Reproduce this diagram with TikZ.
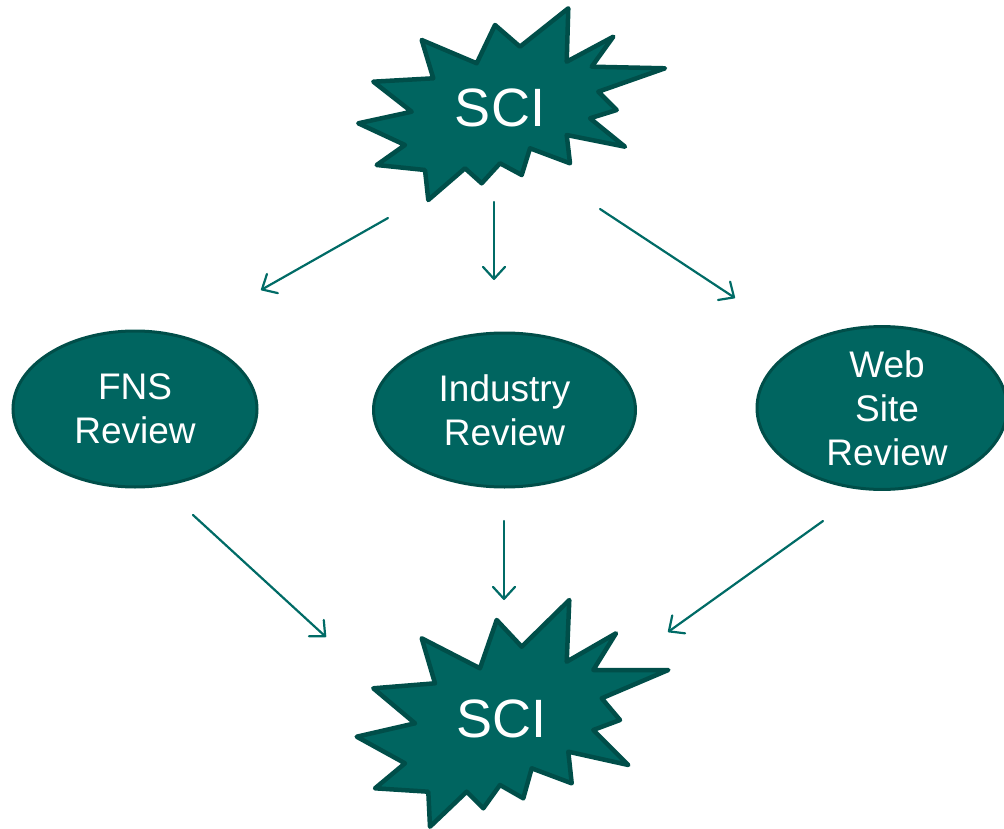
\documentclass[tikz,border=0pt]{standalone}
\usepackage{fontspec}
\setmainfont{Liberation Sans}
\usetikzlibrary{arrows.meta,shapes.geometric}
\definecolor{tealfill}{HTML}{006560}
\definecolor{tealdark}{HTML}{004E49}
\definecolor{tealline}{HTML}{006B66}
\tikzset{
  star/.style={fill=tealfill, draw=tealdark, line width=4.5pt, line join=round},
  review/.style={ellipse, fill=tealfill, draw=tealdark, line width=3pt, inner sep=0pt,
    text=white, align=center, font=\fontsize{37}{44}\selectfont},
  scitext/.style={text=white, font=\fontsize{54}{60}\selectfont, inner sep=0pt},
  flow/.style={draw=tealline, line width=2.2pt, line cap=round,
    -{Straight Barb[length=12pt, width=22pt, line width=2.2pt, round]}}
}
\begin{document}
\begin{tikzpicture}[x=1pt, y=-1pt]
\useasboundingbox (0,0) rectangle (1004,829);
\clip (0,0) rectangle (1004,829);
% top star
\draw[star] (568.3,8.3) -- (566.7,61.7) -- (613.3,36.7) -- (591.7,66.7) -- (665,68.3)
  -- (598.3,91.7) -- (616.7,110) -- (590,118.3) -- (625,146.7) -- (566.7,135)
  -- (570,163.3) -- (530,148.3) -- (521.7,175) -- (500,163.3) -- (481.7,183.3)
  -- (465,168.3) -- (428.3,200) -- (425,170) -- (376.7,165) -- (405,145)
  -- (358.3,123.3) -- (411.7,111.7) -- (373.3,81.7) -- (433.3,78.3) -- (421.7,40)
  -- (476.7,63.3) -- (495,25) -- (520,46.7) -- cycle;
\node[scitext] (sciTop) at (500,108) {SCI};
% bottom star
\draw[star] (569.3,600) -- (566.7,661.7) -- (616,633.3) -- (593.3,670) -- (668.3,670)
  -- (601.7,698.3) -- (620,720) -- (593.3,730) -- (628.3,765) -- (568.3,751.7)
  -- (571.7,783.3) -- (531.7,768.3) -- (523.3,798.3) -- (500,785) -- (483.3,808.3)
  -- (466.7,791.7) -- (430,826.7) -- (428.3,791.7) -- (375,788.3) -- (405,763.3)
  -- (356.7,736.7) -- (415,723.3) -- (373.3,688.3) -- (435,683.3) -- (421.7,638.3)
  -- (480,668.3) -- (496.7,620) -- (521.7,646.7) -- cycle;
\node[scitext] (sciBot) at (501.5,719) {SCI};
% review ellipses
\node[review, minimum width=244pt, minimum height=156pt] (fns) at (135,409) {FNS\\Review};
\node[review, minimum width=262pt, minimum height=154pt] (ind) at (504.5,410) {Industry\\Review};
\node[review, minimum width=250pt, minimum height=158pt] (web) at (882,408) {\hspace*{10pt}Web\hspace*{0pt}\\\hspace*{10pt}Site\\\hspace*{10pt}Review};
% arrow end points
\coordinate (a1s) at (388,218); \coordinate (a1e) at (261,290);
\coordinate (a2s) at (494,202); \coordinate (a2e) at (494,280);
\coordinate (a3s) at (600,209); \coordinate (a3e) at (735,298);
\coordinate (b1s) at (193,515); \coordinate (b1e) at (326,637);
\coordinate (b2s) at (504,521); \coordinate (b2e) at (504,600);
\coordinate (b3s) at (823,521); \coordinate (b3e) at (668,632);
\draw[flow] (a1s) -- (a1e);
\draw[flow] (a2s) -- (a2e);
\draw[flow] (a3s) -- (a3e);
\draw[flow] (b1s) -- (b1e);
\draw[flow] (b2s) -- (b2e);
\draw[flow] (b3s) -- (b3e);
\end{tikzpicture}
\end{document}
